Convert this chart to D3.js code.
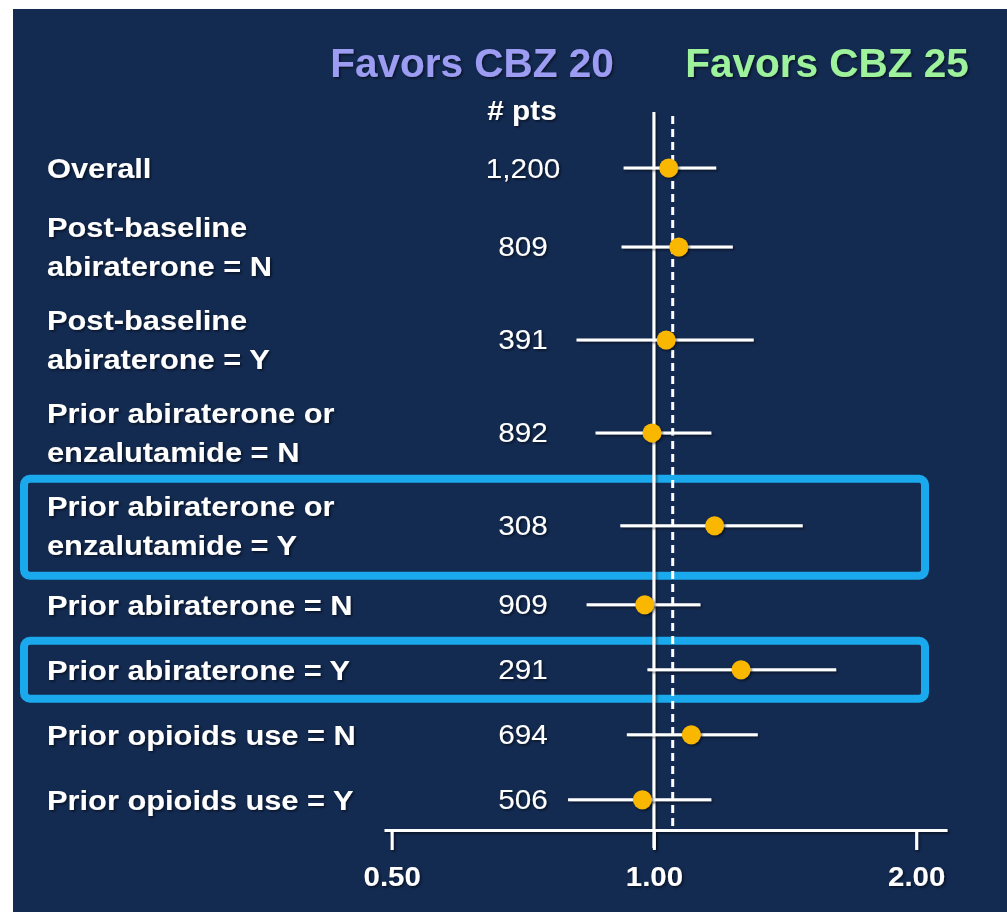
<!DOCTYPE html>
<html>
<head>
<meta charset="utf-8">
<script src="https://cdn.jsdelivr.net/npm/d3@7.9.0/dist/d3.min.js"></script>
<style>
  body { margin: 0; background: #fff; }
  svg { display: block; font-family: "Liberation Sans", Arial, sans-serif; }
</style>
</head>
<body>
<svg id="chart" width="1007" height="912"></svg>
<script>
// subgroup rows (label lines, patient counts, hazard ratio + CI)
const labels = [
  ['Overall'],
  ['Post-baseline', 'abiraterone = N'],
  ['Post-baseline', 'abiraterone = Y'],
  ['Prior abiraterone or', 'enzalutamide = N'],
  ['Prior abiraterone or', 'enzalutamide = Y'],
  ['Prior abiraterone = N'],
  ['Prior abiraterone = Y'],
  ['Prior opioids use = N'],
  ['Prior opioids use = Y'],
];
const pts = ['1,200', '809', '391', '892', '308', '909', '291', '694', '506'];
const hr = [1.040, 1.068, 1.033, 0.995, 1.174, 0.976, 1.259, 1.104, 0.970];
const lower = [0.923, 0.918, 0.815, 0.857, 0.915, 0.837, 0.983, 0.931, 0.797];
const upper = [1.179, 1.232, 1.302, 1.164, 1.482, 1.131, 1.619, 1.316, 1.164];
const overallRef = 1.051;
const highlighted = [4, 6];
const tickValues = [0.5, 1, 2];

const svg = d3.select('#chart');
const W = 1007, H = 912;
const stretch = 1.1; // the slide text is a bit wide

// drop shadow like the slide (big user-space region so thin lines and moved text keep it)
const defs = svg.append('defs');
defs.append('filter').attr('id', 'sh')
  .attr('filterUnits', 'userSpaceOnUse')
  .attr('x', -2000).attr('y', -2000).attr('width', 5000).attr('height', 5000)
  .append('feDropShadow')
  .attr('dx', 1.5).attr('dy', 1.5).attr('stdDeviation', 1)
  .attr('flood-color', '#000').attr('flood-opacity', 0.55);

svg.append('rect')
  .attr('x', 13).attr('y', 9)
  .attr('width', W - 13).attr('height', H - 9)
  .attr('fill', '#132a51');

// x: log scale of hazard ratio
const x = d3.scaleLog().domain([0.49, 2.17]).range([384, 947]);

// y: rows with one or two label lines
const rowUnits = labels.map((l) => (l.length === 1 ? 1 : 1.43));
const starts = [];
rowUnits.reduce((acc, u) => { starts.push(acc); return acc + u; }, 0);
const total = d3.sum(rowUnits);
const y = d3.scaleLinear().domain([0, total]).range([135.5, 135.5 + 65 * total]);
const rowCenter = (i) => y(starts[i] + rowUnits[i] / 2);

// highlight boxes
svg.append('g')
  .selectAll('rect')
  .data(highlighted)
  .join('rect')
  .attr('x', 24)
  .attr('width', 925 - 24)
  .attr('y', (i) => (rowUnits[i] > 1 ? rowCenter(i) - 47 : rowCenter(i) - 29))
  .attr('height', (i) => (rowUnits[i] > 1 ? 97 : 58))
  .attr('rx', 6)
  .attr('fill', 'none')
  .attr('stroke', '#1aa9ec')
  .attr('stroke-width', 8);

// header
const header = svg.append('g').attr('font-weight', 'bold').attr('font-size', 40.5)
  .attr('text-anchor', 'middle');
header.append('text')
  .attr('transform', 'translate(472,77)')
  .attr('fill', '#9c9cf2')
  .attr('filter', 'url(#sh)')
  .text('Favors CBZ 20');
header.append('text')
  .attr('transform', 'translate(827,77)')
  .attr('fill', '#9ef29b')
  .attr('filter', 'url(#sh)')
  .text('Favors CBZ 25');

svg.append('text')
  .attr('transform', `translate(522,120) scale(${stretch},1)`)
  .attr('text-anchor', 'middle')
  .attr('font-weight', 'bold')
  .attr('font-size', 27)
  .attr('fill', '#fff')
  .attr('filter', 'url(#sh)')
  .text('# pts');

// reference lines
svg.append('line')
  .attr('x1', x(1)).attr('x2', x(1))
  .attr('y1', 112).attr('y2', 848)
  .attr('stroke', '#fff').attr('stroke-width', 3)
  .attr('filter', 'url(#sh)');
svg.append('line')
  .attr('x1', x(overallRef)).attr('x2', x(overallRef))
  .attr('y1', 116).attr('y2', 826)
  .attr('stroke', '#fff').attr('stroke-width', 3)
  .attr('stroke-dasharray', '8,5');

// row labels
const rows = svg.append('g').selectAll('g')
  .data(labels.map((l, i) => i))
  .join('g');

rows.each(function (i) {
  const g = d3.select(this);
  const c = rowCenter(i);
  const lines = labels[i];
  lines.forEach((txt, k) => {
    const base = lines.length === 1 ? c + 10 : c - 9.5 + k * 39;
    g.append('text')
      .attr('transform', `translate(47,${base}) scale(${stretch},1)`)
      .attr('font-weight', 'bold')
      .attr('font-size', 28)
      .attr('fill', '#fff')
      .attr('filter', 'url(#sh)')
      .text(txt);
  });
  g.append('text')
    .attr('transform', `translate(523,${c + 9.5}) scale(${stretch},1)`)
    .attr('text-anchor', 'middle')
    .attr('font-size', 27)
    .attr('fill', '#fff')
    .attr('filter', 'url(#sh)')
    .text(pts[i]);
});

// CI whiskers and points
rows.append('line')
  .attr('x1', (i) => x(lower[i]))
  .attr('x2', (i) => x(upper[i]))
  .attr('y1', (i) => rowCenter(i))
  .attr('y2', (i) => rowCenter(i))
  .attr('stroke', '#fff')
  .attr('stroke-width', 3)
  .attr('filter', 'url(#sh)');

rows.append('circle')
  .attr('cx', (i) => x(hr[i]))
  .attr('cy', (i) => rowCenter(i))
  .attr('r', 9.5)
  .attr('fill', '#f9b700')
  .attr('filter', 'url(#sh)');

// axis
const axisY = 830;
const axis = svg.append('g')
  .attr('transform', `translate(0,${axisY})`)
  .attr('filter', 'url(#sh)')
  .call(
    d3.axisBottom(x)
      .tickValues(tickValues)
      .tickFormat(d3.format('.2f'))
      .tickSize(20)
      .tickSizeOuter(0)
      .tickPadding(16)
  );
axis.select('.domain').attr('stroke', '#fff').attr('stroke-width', 3);
axis.selectAll('.tick line').attr('stroke', '#fff').attr('stroke-width', 3);
axis.selectAll('.tick text')
  .attr('fill', '#fff')
  .attr('font-size', 28)
  .attr('font-weight', 'bold')
  .attr('font-family', '"Liberation Sans", Arial, sans-serif')
  .attr('transform', 'scale(1.05,1)');
</script>
</body>
</html>
